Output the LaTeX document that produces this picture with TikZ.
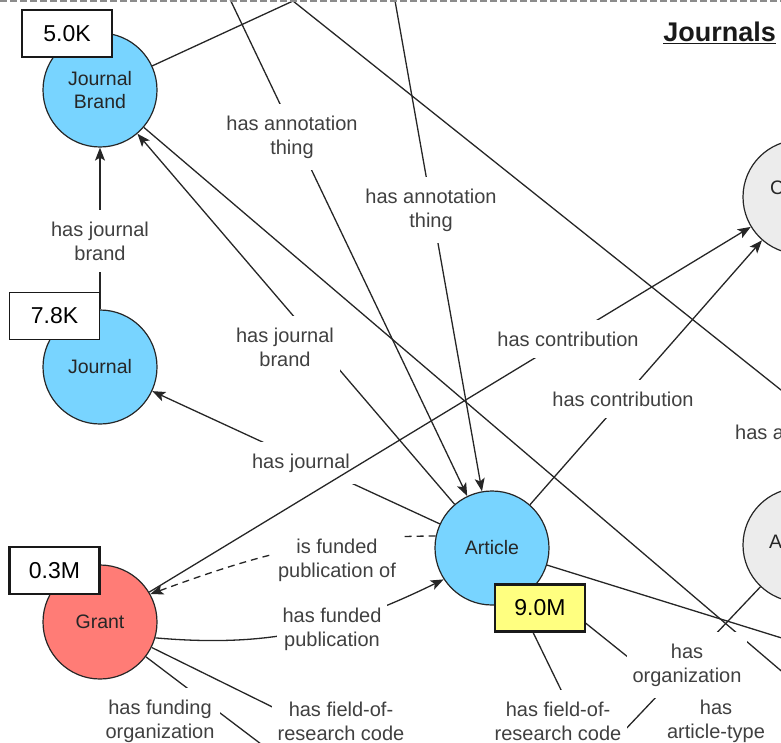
\documentclass[tikz,border=0pt]{standalone}
\usepackage{fontspec}
\setmainfont{Liberation Sans}
\usepackage{tikz}
\usetikzlibrary{arrows.meta}
\definecolor{skyblue}{RGB}{120,212,255}
\definecolor{grantred}{RGB}{255,124,118}
\definecolor{hilite}{RGB}{255,255,128}
\definecolor{extgrey}{RGB}{236,236,236}

\begin{document}
\begin{tikzpicture}[x=1pt,y=1pt,
      cls/.style={circle,draw=black!85,line width=1.2pt,minimum size=114pt,
        inner sep=0pt,align=center,text=black!85,
        font=\fontsize{19.5}{23}\selectfont},
      jrnl/.style={cls,fill=skyblue},
      fund/.style={cls,fill=grantred},
      ext/.style={cls,fill=extgrey},
      tally/.style={draw=black!90,line width=1.2pt,fill=white,
        minimum width=90pt,minimum height=47pt,inner sep=0pt,
        font=\fontsize{23}{27}\selectfont},
      tallybold/.style={tally,line width=2.6pt},
      rel/.style={draw=black!85,line width=1.3pt},
      arr/.style={rel,-{Stealth[length=13pt,width=10pt,inset=3pt]}},
      lbl/.style={fill=white,align=center,inner xsep=6pt,inner ysep=12pt,
        text=black!75,font=\fontsize{20}{24}\selectfont}
    ]
    \useasboundingbox (0,0) rectangle (781,-743);
    \clip (0,0) rectangle (781,-743);

    \node[jrnl] (jb) at (100,-90) {Journal\\Brand};
    \node[jrnl] (jnl) at (100,-367) {Journal};
    \node[fund] (grant) at (100,-622) {Grant};
    \node[jrnl] (art) at (492,-548) {Article};
    \node[ext] (cont) at (800,-197) {};
    \node[ext] (atyp) at (800,-545) {};
    \node[anchor=west,inner sep=0pt,align=left,text=black!85,
      font=\fontsize{19.5}{23}\selectfont] (ctxt) at (770,-199) {C\\\hspace*{10pt}u};
    \node[anchor=west,inner sep=0pt,text=black!85,
      font=\fontsize{19.5}{23}\selectfont] (atxt) at (769,-542) {A};

    \coordinate (topc) at (293,-1);
    \coordinate (ann1) at (228,5);
    \coordinate (ann2) at (394,5);
    \coordinate (offr) at (850,-445);
    \coordinate (offjb) at (820,-704);
    \coordinate (offfc) at (600,-770);
    \coordinate (offorg) at (760,-763);
    \coordinate (offat) at (587,-770);
    \coordinate (offr2) at (830,-653);
    \coordinate (offgf) at (380,-760);
    \coordinate (offgo) at (290,-766);

    \draw[rel] (jb) -- (topc);
    \draw[rel] (topc) -- (offr);
    \draw[arr] (ann1) -- (art);
    \node[lbl] (l1) at (292,-137) {has annotation\\thing};
    \draw[arr] (ann2) -- (art);
    \node[lbl] (l2) at (431,-210) {has annotation\\thing};
    \draw[arr] (jnl) -- (jb);
    \node[lbl] (l3) at (100,-241) {has journal\\brand};
    \draw[arr] (art) -- (jb);
    \node[lbl] (l4) at (285,-347) {has journal\\brand};
    \draw[rel] (jb) -- (offjb);
    \draw[arr] (art) -- (jnl);
    \node[lbl] (l7) at (301,-463) {has journal};
    \draw[arr] (grant) -- (cont);
    \node[lbl] (l5) at (568,-339) {has contribution};
    \draw[arr] (art) -- (cont);
    \node[lbl] (l6) at (623,-399) {has contribution};
    \draw[arr,dash pattern=on 7pt off 5pt] (art.168) to[out=180,in=20] (grant.29);
    \node[lbl] (l8) at (337,-560) {is funded\\publication of};
    \draw[arr] (grant.-16) to[out=-5,in=206] (art.213);
    \node[lbl] (l9) at (332,-629) {has funded\\publication};
    \draw[rel] (art) -- (offfc);
    \draw[rel] (art) -- (offorg);
    \draw[rel] (atyp) -- (offat);
    \node[lbl] (l13) at (687,-665) {has\\organization};
    \node[lbl] (l14) at (716,-721) {has\\article-type};
    \node[lbl] (l12) at (558,-721) {has field-of-\\research code};
    \draw[rel] (art) -- (offr2);
    \draw[rel] (grant) -- (offgf);
    \node[lbl] (l11) at (341,-721) {has field-of-\\research code};
    \draw[rel] (grant) -- (offgo);
    \node[lbl] (l10) at (160,-721) {has funding\\organization};
    \node[lbl,anchor=west,inner xsep=0pt] (l15) at (735,-432) {has a};

    \node[tally] (cjb) at (67,-33.5) {5.0K};
    \node[tally] (cjnl) at (54.5,-316) {7.8K};
    \node[tallybold] (cgrant) at (54.5,-570.5) {0.3M};
    \node[tallybold,fill=hilite] (cart) at (540,-608) {9.0M};

    \node[anchor=base east,inner sep=0pt,text=black!90,
      font=\bfseries\fontsize{27}{30}\selectfont] (ttl) at (776,-42) {\underline{Journals}};
    \draw[black!45,line width=1.3pt,dash pattern=on 7pt off 3pt] (0,-1) -- (781,-1);
  \end{tikzpicture}
\end{document}
